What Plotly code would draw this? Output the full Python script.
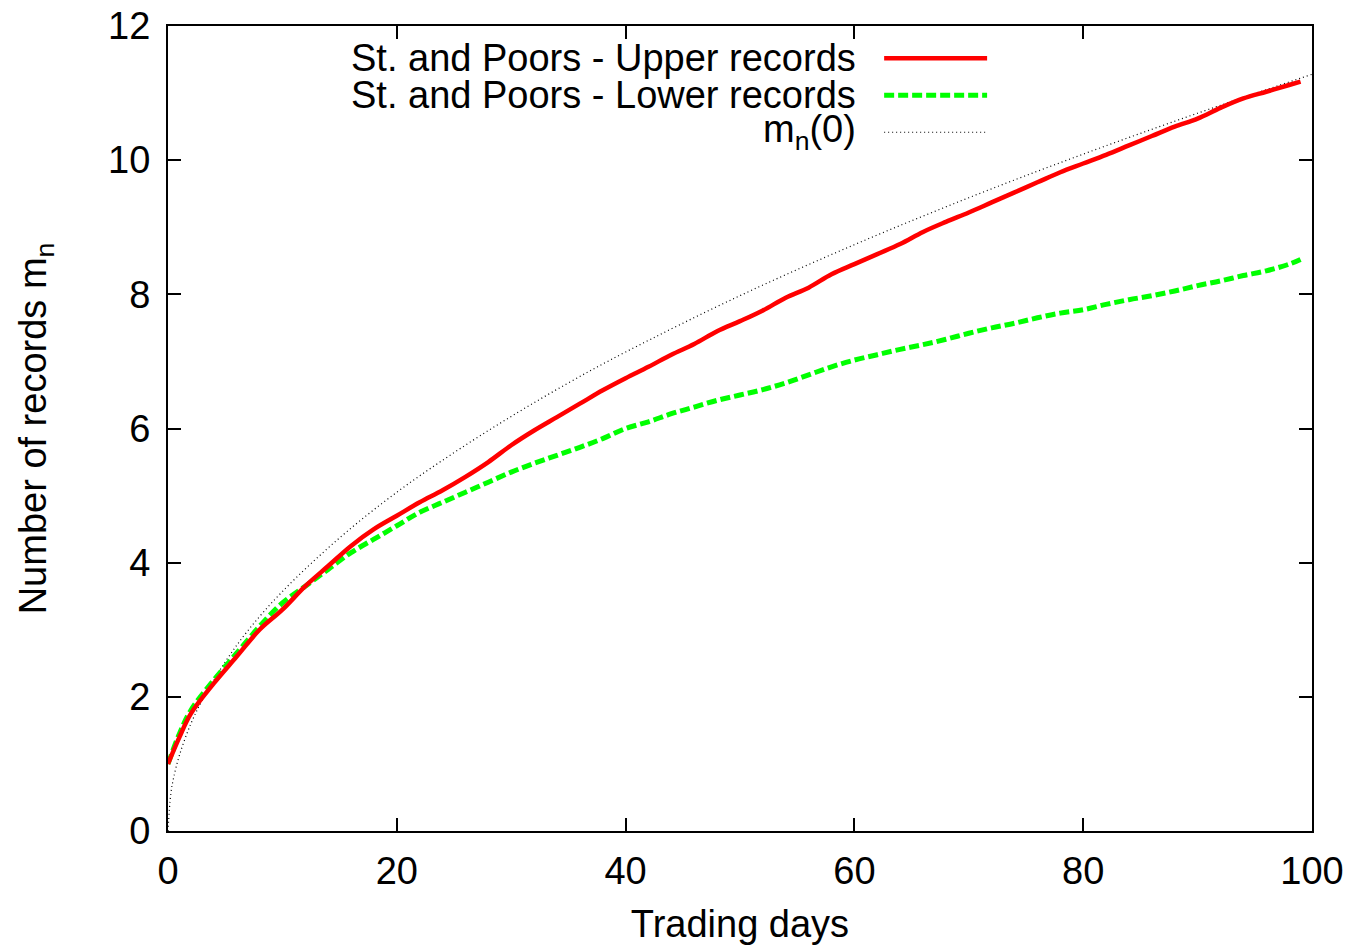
import plotly.graph_objects as go

# Data
days = [0, 1, 2, 4, 6, 8, 10, 12, 14, 16, 18, 20, 22, 24, 26, 28, 30, 32, 34, 36, 38,
        40, 42, 44, 46, 48, 50, 52, 54, 56, 58, 60, 62, 64, 66, 68, 70, 72, 74, 76, 78,
        80, 82, 84, 86, 88, 90, 92, 94, 96, 98, 99]
upper = [1.0, 1.4, 1.75, 2.2, 2.6, 3.0, 3.3, 3.65, 3.95, 4.25, 4.5, 4.7, 4.9, 5.08, 5.28,
         5.5, 5.75, 5.97, 6.17, 6.37, 6.57, 6.75, 6.92, 7.1, 7.26, 7.45, 7.6, 7.76, 7.95, 8.1,
         8.3, 8.45, 8.6, 8.75, 8.93, 9.08, 9.22, 9.37, 9.52, 9.67, 9.82, 9.95, 10.08, 10.22,
         10.36, 10.5, 10.62, 10.78, 10.92, 11.02, 11.12, 11.17]
lower = [1.0, 1.45, 1.8, 2.25, 2.65, 3.05, 3.4, 3.65, 3.9, 4.15, 4.35, 4.55, 4.75, 4.9,
         5.05, 5.2, 5.35, 5.48, 5.6, 5.72, 5.85, 6.0, 6.1, 6.22, 6.32, 6.42, 6.5, 6.58,
         6.68, 6.8, 6.92, 7.02, 7.1, 7.18, 7.25, 7.33, 7.42, 7.5, 7.57, 7.65, 7.72, 7.77,
         7.85, 7.92, 7.98, 8.05, 8.13, 8.2, 8.28, 8.35, 8.45, 8.52]
theory_days = [0, 0.25, 0.5, 1, 2, 3, 5, 7, 10, 15, 20, 25, 30, 35, 40, 50, 60, 70, 80, 90, 100]
theory = [0.0, 0.56, 0.8, 1.13, 1.6, 1.95, 2.52, 2.99, 3.57, 4.37, 5.05, 5.64, 6.18, 6.68,
          7.14, 7.98, 8.74, 9.44, 10.09, 10.7, 11.28]

labels = ["St. and Poors - Upper records", "St. and Poors - Lower records", "m<sub>n</sub>(0)"]
colors = ["#ff0000", "#00ff00", "#000000"]

FONT = "Liberation Sans, Arial, sans-serif"
FS = 38

red_style = dict(color=colors[0], width=4.5)
green_style = dict(color=colors[1], width=5, dash="10px,4px")
dot_style = dict(color=colors[2], width=1.2, dash="1px,3px")

fig = go.Figure()
fig.add_trace(go.Scatter(x=theory_days, y=theory, mode="lines", line_shape="spline",
                         line=dot_style, name=labels[2]))
fig.add_trace(go.Scatter(x=days, y=lower, mode="lines", line_shape="spline",
                         line=green_style, name=labels[1]))
fig.add_trace(go.Scatter(x=days, y=upper, mode="lines", line_shape="spline",
                         line=red_style, name=labels[0]))

# gnuplot-style key: text right-aligned, sample on the right
key_rows = [0.960, 0.914, 0.868]
styles = [red_style, green_style, dot_style]
for lab, yy, st in zip(labels, key_rows, styles):
    fig.add_annotation(x=0.603, y=yy, xref="paper", yref="paper", text=lab, showarrow=False,
                       xanchor="right", yanchor="middle", font=dict(size=FS, color="black", family=FONT))
    fig.add_shape(type="line", xref="paper", yref="paper", x0=0.626, x1=0.716, y0=yy, y1=yy,
                  line=st)

axis_common = dict(showline=True, linecolor="black", linewidth=2, mirror="ticks",
                   ticks="inside", ticklen=13, tickwidth=2, tickcolor="black",
                   showgrid=False, zeroline=False, automargin=False,
                   tickfont=dict(size=FS, color="black", family=FONT))
fig.update_xaxes(range=[0, 100], dtick=20, ticklabelstandoff=5,
                 title=dict(text="Trading days", font=dict(size=FS, color="black", family=FONT), standoff=20),
                 **axis_common)
fig.update_yaxes(range=[0, 12], dtick=2, ticklabelstandoff=8,
                 title=dict(text="Number of records m<sub>n</sub>", font=dict(size=FS, color="black", family=FONT), standoff=50),
                 **axis_common)

fig.update_layout(width=1354, height=949, margin=dict(l=168, r=42, t=26, b=118),
                  plot_bgcolor="white", paper_bgcolor="white", showlegend=False,
                  font=dict(family=FONT, color="black"))
fig.write_html("out.html")
